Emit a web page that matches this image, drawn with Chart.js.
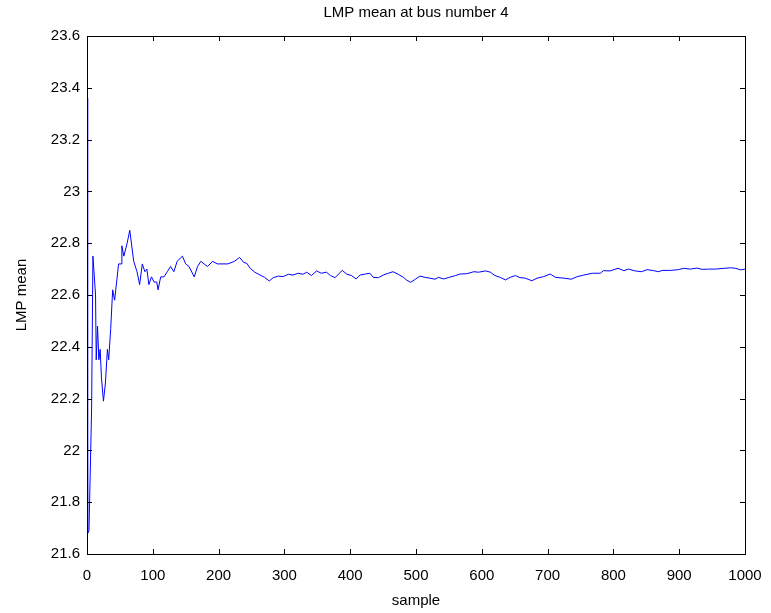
<!DOCTYPE html>
<html>
<head>
<meta charset="utf-8">
<title>LMP mean at bus number 4</title>
<script src="https://cdn.jsdelivr.net/npm/chart.js@4.4.0/dist/chart.umd.min.js"></script>
<style>
    html, body { margin: 0; padding: 0; background: #fff; }
    #wrap { width: 771px; height: 613px; }
</style>
</head>
<body>
<div id="wrap"><canvas id="lmpChart" width="771" height="613"></canvas></div>
<script>
// values (sample index -> running LMP mean)
const samples = [
    0, 1, 3, 7, 9, 13, 14, 16, 18, 20,
    22, 25, 28, 31, 33, 36, 39, 42, 45, 48,
    52, 53, 56, 58, 61, 65, 69, 71, 76, 80,
    84, 88, 91, 94, 98, 102, 106, 108, 112, 117,
    122, 127, 132, 137, 145, 150, 155, 163, 168, 173,
    178, 183, 191, 198, 214, 224, 232, 238, 243, 248,
    255, 263, 270, 277, 283, 291, 298, 306, 313, 321,
    328, 334, 341, 349, 356, 364, 370, 377, 382, 388,
    395, 402, 409, 415, 423, 430, 435, 443, 450, 458,
    465, 473, 481, 486, 492, 499, 506, 514, 521, 529,
    534, 542, 549, 560, 567, 577, 588, 595, 606, 613,
    620, 628, 636, 643, 651, 658, 666, 676, 684, 694,
    704, 712, 725, 736, 745, 755, 768, 780, 785, 795,
    807, 816, 823, 833, 843, 851, 859, 869, 874, 887,
    899, 907, 917, 927, 935, 945, 955, 968, 978, 986,
    993, 1000
];
const lmpMean = [
    23.36, 21.68, 21.69, 22.16, 22.75, 22.60, 22.35, 22.48, 22.35, 22.39,
    22.28, 22.19, 22.26, 22.39, 22.35, 22.47, 22.62, 22.58, 22.65, 22.72,
    22.72, 22.79, 22.75, 22.77, 22.80, 22.85, 22.77, 22.73, 22.69, 22.64,
    22.72, 22.69, 22.70, 22.64, 22.67, 22.65, 22.65, 22.62, 22.67, 22.67,
    22.69, 22.71, 22.69, 22.73, 22.75, 22.72, 22.71, 22.67, 22.71, 22.73,
    22.72, 22.71, 22.73, 22.72, 22.72, 22.73, 22.745, 22.726, 22.722, 22.703,
    22.688, 22.677, 22.668, 22.654, 22.667, 22.673, 22.671, 22.680, 22.677, 22.684,
    22.680, 22.688, 22.675, 22.693, 22.684, 22.688, 22.675, 22.667, 22.680, 22.695,
    22.680, 22.675, 22.662, 22.677, 22.681, 22.684, 22.668, 22.667, 22.677, 22.684,
    22.690, 22.680, 22.668, 22.657, 22.649, 22.661, 22.673, 22.668, 22.665, 22.661,
    22.668, 22.662, 22.667, 22.675, 22.681, 22.682, 22.690, 22.688, 22.693, 22.688,
    22.675, 22.668, 22.658, 22.668, 22.675, 22.667, 22.665, 22.655, 22.665, 22.671,
    22.681, 22.668, 22.665, 22.661, 22.671, 22.677, 22.684, 22.684, 22.694, 22.693,
    22.703, 22.694, 22.700, 22.693, 22.690, 22.698, 22.695, 22.690, 22.695, 22.695,
    22.698, 22.703, 22.700, 22.704, 22.699, 22.700, 22.700, 22.703, 22.705, 22.703,
    22.697, 22.700
];
const xTicks = [0, 100, 200, 300, 400, 500, 600, 700, 800, 900, 1000];
const yTicks = [21.6, 21.8, 22, 22.2, 22.4, 22.6, 22.8, 23, 23.2, 23.4, 23.6];
const chartTitle = 'LMP mean at bus number 4';

const FONT = '"Liberation Sans", Arial, Helvetica, sans-serif';

// MATLAB-style box with inward ticks on all four sides, title centred over the axes
const boxTicks = {
    id: 'boxTicks',
    afterDraw: function(chart) {
        const ctx = chart.ctx;
        const a = chart.chartArea;
        const xs = chart.scales.x;
        const ys = chart.scales.y;
        const len = 5;
        ctx.save();
        ctx.strokeStyle = '#000';
        ctx.lineWidth = 1;
        ctx.beginPath();
        xTicks.forEach(function(v) {
            const px = Math.round(xs.getPixelForValue(v)) + 0.5;
            ctx.moveTo(px, a.bottom); ctx.lineTo(px, a.bottom - len);
            ctx.moveTo(px, a.top); ctx.lineTo(px, a.top + len);
        });
        yTicks.forEach(function(v) {
            const py = Math.round(ys.getPixelForValue(v)) + 0.5;
            ctx.moveTo(a.left, py); ctx.lineTo(a.left + len, py);
            ctx.moveTo(a.right, py); ctx.lineTo(a.right - len, py);
        });
        ctx.stroke();
        ctx.strokeRect(Math.round(a.left) + 0.5, Math.round(a.top) + 0.5,
                       Math.round(a.right - a.left), Math.round(a.bottom - a.top));

        ctx.fillStyle = '#000';
        ctx.font = '15px ' + FONT;
        ctx.textAlign = 'center';
        ctx.textBaseline = 'middle';
        ctx.fillText(chartTitle, (a.left + a.right) / 2, 13);
        ctx.restore();
    }
};

const points = samples.map(function(s, i) { return { x: s, y: lmpMean[i] }; });

new Chart(document.getElementById('lmpChart').getContext('2d'), {
    type: 'line',
    data: {
        datasets: [{
            label: 'LMP mean',
            data: points,
            borderColor: '#0000ff',
            borderWidth: 1,
            pointRadius: 0,
            tension: 0,
            fill: false
        }]
    },
    options: {
        responsive: false,
        animation: false,
        layout: { padding: { left: 0, right: 26, top: 36, bottom: 0 } },
        plugins: {
            legend: { display: false },
            tooltip: { enabled: false },
            title: { display: false }
        },
        scales: {
            x: {
                type: 'linear',
                min: 0,
                max: 1000,
                afterBuildTicks: function(scale) {
                    scale.ticks = xTicks.map(function(v) { return { value: v }; });
                },
                afterFit: function(scale) {
                    scale.height = 59;
                    scale.paddingLeft = 0;
                    scale.paddingRight = 0;
                },
                grid: { display: false, drawTicks: false, tickLength: 0 },
                border: { display: false },
                ticks: {
                    color: '#000',
                    font: { family: FONT, size: 15 },
                    padding: 13,
                    maxRotation: 0,
                    autoSkip: false,
                    callback: function(v) { return String(v); }
                },
                title: {
                    display: true,
                    text: 'sample',
                    color: '#000',
                    font: { family: FONT, size: 15 },
                    padding: { top: 0, bottom: 3 }
                }
            },
            y: {
                min: 21.6,
                max: 23.6,
                afterBuildTicks: function(scale) {
                    scale.ticks = yTicks.map(function(v) { return { value: v }; });
                },
                afterFit: function(scale) { scale.width = 87; },
                grid: { display: false, drawTicks: false, tickLength: 0 },
                border: { display: false },
                ticks: {
                    color: '#000',
                    font: { family: FONT, size: 15 },
                    padding: 7,
                    autoSkip: false,
                    callback: function(v) { return String(Number(v.toFixed(1))); }
                },
                title: {
                    display: true,
                    text: 'LMP mean',
                    color: '#000',
                    font: { family: FONT, size: 15 },
                    padding: { top: 13, bottom: 0 }
                }
            }
        }
    },
    plugins: [boxTicks]
});
</script>
</body>
</html>
